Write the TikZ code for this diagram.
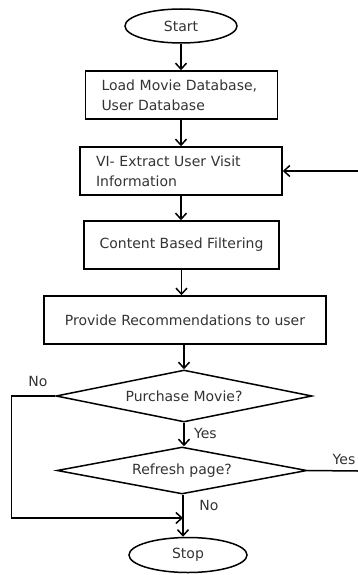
\documentclass[tikz,border=0pt]{standalone}
\usepackage{fontspec}
\setmainfont{DejaVu Sans}
\usetikzlibrary{shapes.geometric,arrows.meta}

\begin{document}
\begin{tikzpicture}[x=1pt, y=-1pt,
    every node/.style={font=\fontsize{14}{20}\selectfont, text=black!80},
    terminal/.style={draw=black, ellipse, line width=1.5pt, inner sep=0pt, minimum width=112pt, minimum height=34pt},
    process/.style={draw=black, rectangle, line width=1.5pt, inner sep=0pt, minimum height=48pt},
    decision/.style={draw=black, diamond, line width=1.5pt, inner sep=0pt, aspect=4.9},
    flow/.style={line width=1.5pt, -{Straight Barb[length=6pt, width=11pt, line width=1.5pt]}},
    link/.style={line width=1.5pt},
  ]

\useasboundingbox (0,0) rectangle (358,575);

\node[terminal] (start) at (181,26) {Start};
\node[process, text width=160pt, inner xsep=16pt, align=left] (load) at (181.5,95) {Load Movie Database,\\User Database};
\node[process, text width=170pt, inner xsep=16pt, align=left] (extract) at (181,171) {VI- Extract User Visit\\Information};
\node[process, minimum width=195pt] (filter) at (181.5,245) {Content Based Filtering};
\node[process, minimum width=282pt] (recommend) at (185,320) {Provide Recommendations to user};
\node[decision, minimum width=256pt, minimum height=52pt] (purchase) at (184,396) {Purchase Movie?};
\node[decision, minimum width=250pt, minimum height=47pt] (refresh) at (182,470.5) {Refresh page?};
\node[terminal, minimum width=118pt, minimum height=35pt] (stop) at (188,555) {Stop};

% main flow
\draw[flow] (start) -- (start |- load.north);
\draw[flow] (load.south -| extract) -- (extract);
\draw[flow] (extract) -- (extract |- filter.north);
\draw[flow] (filter.south) -- (filter.south |- recommend.north);
\draw[flow] (recommend.south -| purchase) -- (purchase);
\draw[flow] (purchase) -- (purchase.south |- refresh.north) node[pos=0.45, right=6pt] {Yes};
\coordinate (merge) at (183,518);
\draw[flow] (refresh.south -| merge) -- (merge |- stop.north);
\node (nolow) at (209,505) {No};

% purchase: no
\draw[flow] (purchase.west) -- ++(-44,0) |- (merge);
\node (noleft) at (38,381) {No};

% refresh: yes, back to extract
\coordinate (edgelow) at (358,471);
\coordinate (edgehigh) at (358,171);
\draw[link] (refresh.east) -- (edgelow);
\node (yesright) at (344,459) {Yes};
\draw[flow] (edgehigh) -- (extract.east);
\end{tikzpicture}
\end{document}
